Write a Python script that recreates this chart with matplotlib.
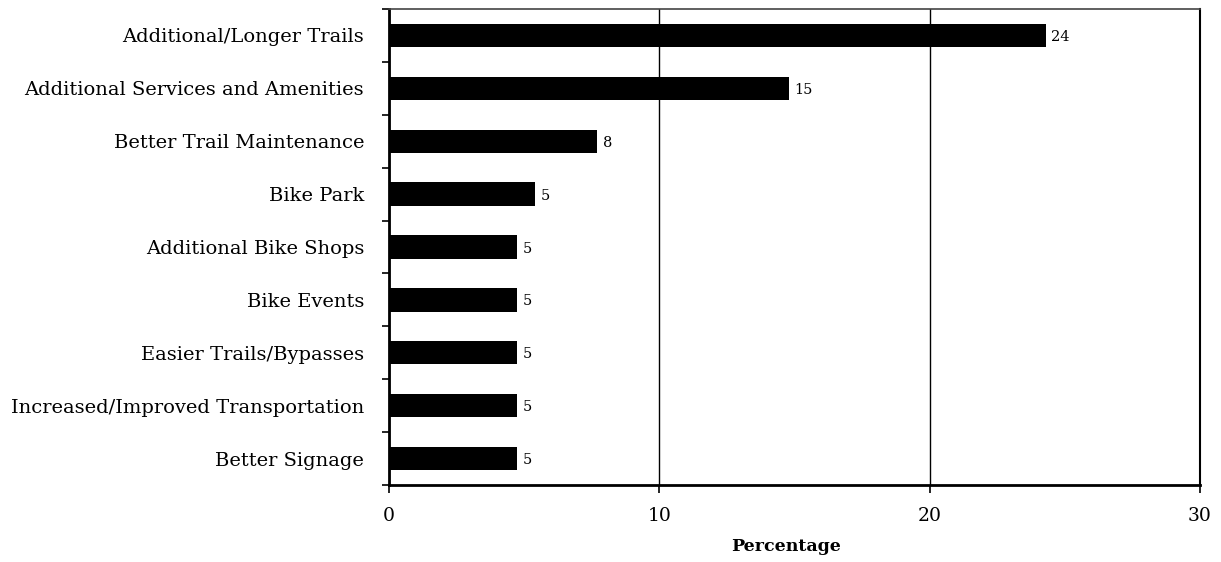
import matplotlib
matplotlib.use("Agg")
import matplotlib.pyplot as plt
import numpy as np

categories = ["Additional/Longer Trails", "Additional Services and Amenities",
              "Better Trail Maintenance", "Bike Park", "Additional Bike Shops",
              "Bike Events", "Easier Trails/Bypasses",
              "Increased/Improved Transportation", "Better Signage"]
values = [24.3, 14.8, 7.7, 5.4, 4.75, 4.75, 4.75, 4.75, 4.75]
labels = ["24", "15", "8", "5", "5", "5", "5", "5", "5"]
xticks = [0, 10, 20, 30]

plt.rcParams['font.family'] = ['DejaVu Serif']

fig = plt.figure(figsize=(12.21, 5.62), dpi=100)
ax = fig.add_axes([389/1221, 1-485/562, (1200-389)/1221, (485-9)/562])

n = len(categories)
y = np.arange(n)
ax.barh(y, values, height=0.44, color='black', zorder=3)
for yi, v, lab in zip(y, values, labels):
    ax.text(v + 0.2, yi + 0.03, lab, va='center', ha='left', fontsize=10.5)

ax.set_ylim(n - 0.5, -0.5)
ax.set_xlim(0, 30)
ax.set_xticks(xticks)
ax.set_xticklabels([str(t) for t in xticks], fontsize=13.5)
ax.xaxis.grid(True, color='black', linewidth=1, zorder=0)
ax.set_axisbelow(True)

ax.set_yticks(y)
ax.set_yticklabels(categories, fontsize=14)
ax.tick_params(axis='y', length=0, pad=18)
ax.set_yticks(np.arange(n + 1) - 0.5, minor=True)
ax.tick_params(axis='y', which='minor', length=5, width=1.2, direction='out')
ax.tick_params(axis='x', length=6, width=1.2, direction='out', pad=10)

ax.set_xlabel("Percentage", fontsize=12.5, fontweight='bold', labelpad=9)
ax.xaxis.label.set_x(0.49)

ax.spines['left'].set_linewidth(2)
ax.spines['bottom'].set_linewidth(2)
ax.spines['right'].set_linewidth(1.5)
ax.spines['top'].set_linewidth(1.2)
ax.spines['top'].set_color('#444444')

fig.savefig("out.png", dpi=100)
